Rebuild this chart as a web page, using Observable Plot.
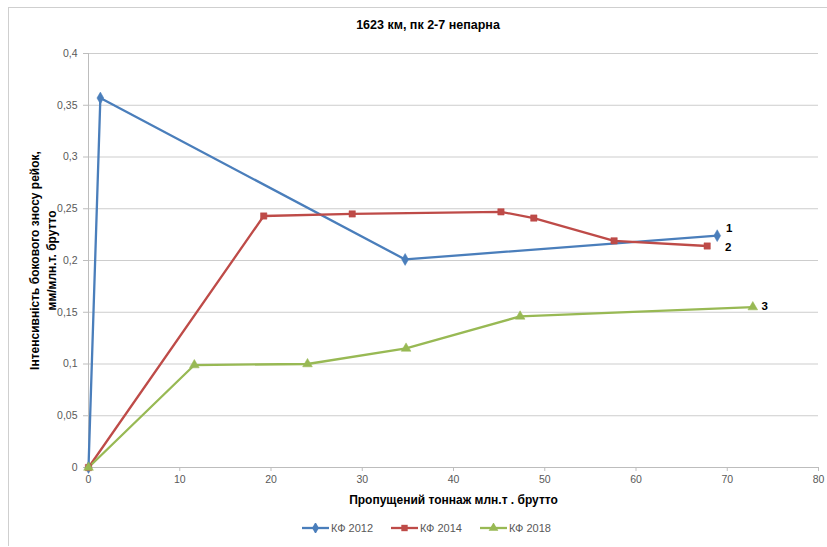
<!DOCTYPE html>
<html>
<head>
<meta charset="utf-8">
<script src="https://cdn.jsdelivr.net/npm/d3@7"></script>
<script src="https://cdn.jsdelivr.net/npm/@observablehq/plot@0.6"></script>
<style>
  html, body { margin: 0; padding: 0; background: #fff; }
  #chart { position: relative; width: 827px; height: 547px; overflow: hidden;
           font-family: "Liberation Sans", Arial, sans-serif; }
  #frame { position: absolute; left: 8px; top: 7px; width: 840px; height: 538px;
           border-left: 1.5px solid #cfcfcf; border-top: 1.5px solid #cfcfcf; }
  #title { position: absolute; top: 17px; left: 0; width: 856px; text-align: center;
           font-size: 12.5px; font-weight: bold; line-height: 16px; color: #000; }
  #plot { position: absolute; top: 40px; left: 0; }
  #legend { position: absolute; top: 520px; left: 0; width: 853px; display: flex;
            justify-content: center; gap: 18px; font-size: 11px; color: #595959; line-height: 16px; }
  #legend .item { display: flex; align-items: center; gap: 2px; }
</style>
</head>
<body>
<div id="chart">
  <div id="frame"></div>
  <div id="title">1623 км, пк 2-7 непарна</div>
  <div id="plot"></div>
  <div id="legend"></div>
</div>
<script>
// Series: accumulated tonnage (млн.т брутто) vs. side-wear intensity (мм/млн.т брутто)
const seriesNames = ["КФ 2012", "КФ 2014", "КФ 2018"];
const seriesTags = ["1", "2", "3"];
const seriesColors = ["#4A7EBB", "#BE4B48", "#98B954"];
const seriesSymbols = ["diamond", "square", "triangle"];

const x2012 = [0, 1.3, 34.7, 68.9];
const y2012 = [0, 0.357, 0.201, 0.224];

const x2014 = [0, 19.2, 28.9, 45.2, 48.8, 57.6, 67.8];
const y2014 = [0, 0.243, 0.245, 0.247, 0.241, 0.219, 0.214];

const x2018 = [0, 11.6, 24.0, 34.8, 47.3, 72.8];
const y2018 = [0, 0.099, 0.100, 0.115, 0.146, 0.155];

const xTicks = [0, 10, 20, 30, 40, 50, 60, 70, 80];
const yTicks = [0, 0.05, 0.1, 0.15, 0.2, 0.25, 0.3, 0.35, 0.4];

const xs = [x2012, x2014, x2018];
const ys = [y2012, y2014, y2018];

const rows = [];
seriesNames.forEach((name, i) => {
  xs[i].forEach((x, j) => rows.push({series: name, x, y: ys[i][j], last: j === xs[i].length - 1, tag: seriesTags[i]}));
});

const fmt = d => String(d).replace(".", ",");
const colorScale = {domain: seriesNames, range: seriesColors};
const symbolScale = {domain: seriesNames, range: seriesSymbols};

const lastOf = name => rows.filter(d => d.series === name && d.last);
const tagOffsets = [[12, -7], [21, 1], [12, -1]];

const plot = Plot.plot({
  width: 827,
  height: 475,
  marginTop: 13,
  marginBottom: 48,
  marginLeft: 88,
  marginRight: 9,
  style: {fontFamily: "Liberation Sans, Arial, sans-serif", fontSize: "10.5px", color: "#595959", background: "transparent", overflow: "visible"},
  x: {domain: [0, 80]},
  y: {domain: [0, 0.4]},
  color: colorScale,
  symbol: symbolScale,
  marks: [
    Plot.gridY(yTicks, {stroke: "#cdcdcd", strokeOpacity: 1, strokeWidth: 1}),
    Plot.axisY({ticks: yTicks, tickFormat: fmt, tickSize: 5, tickPadding: 6, stroke: "#bdbdbd", strokeOpacity: 1, label: null}),
    Plot.axisX({ticks: xTicks, tickSize: 4, tickPadding: 4, stroke: "#bdbdbd", strokeOpacity: 1, label: null}),
    Plot.ruleX([0], {stroke: "#bdbdbd"}),
    Plot.ruleY([0], {stroke: "#bdbdbd"}),
    Plot.line(rows, {x: "x", y: "y", z: "series", stroke: "series", strokeWidth: 2.3, strokeLinejoin: "miter"}),
    Plot.dot(rows, {x: "x", y: "y", symbol: "series", fill: "series", stroke: "series", strokeWidth: 0.5, r: 3.6}),
    ...seriesNames.map((name, i) => Plot.text(lastOf(name), {
      x: "x", y: "y", text: "tag", dx: tagOffsets[i][0], dy: tagOffsets[i][1],
      fontWeight: "bold", fontSize: 11.5, fill: "#000", textAnchor: "middle"
    })),
    Plot.text(["Пропущений тоннаж млн.т . брутто"], {
      frameAnchor: "bottom", dy: 33, fontWeight: "bold", fontSize: 12, fill: "#000", lineAnchor: "middle"
    }),
    Plot.text(["Інтенсивність бокового зносу рейок,\nмм/млн.т. брутто"], {
      frameAnchor: "left", dx: -46, rotate: -90, fontWeight: "bold", fontSize: 12, fill: "#000",
      lineAnchor: "middle", textAnchor: "middle", lineHeight: 1.4
    })
  ]
});
document.getElementById("plot").appendChild(plot);

// Legend: line swatch with the series symbol, followed by its name
const legend = d3.select("#legend");
const symbolGen = {diamond: d3.symbolDiamond, square: d3.symbolSquare, triangle: d3.symbolTriangle};
seriesNames.forEach((name, i) => {
  const item = legend.append("div").attr("class", "item");
  const svg = item.append("svg").attr("width", 27).attr("height", 10);
  svg.append("line").attr("x1", 0).attr("x2", 27).attr("y1", 5).attr("y2", 5)
    .attr("stroke", seriesColors[i]).attr("stroke-width", 2.3);
  svg.append("path").attr("transform", "translate(13.5,5)")
    .attr("d", d3.symbol(symbolGen[seriesSymbols[i]], Math.PI * 3.6 * 3.6)())
    .attr("fill", seriesColors[i]);
  item.append("span").text(name);
});
</script>
</body>
</html>
